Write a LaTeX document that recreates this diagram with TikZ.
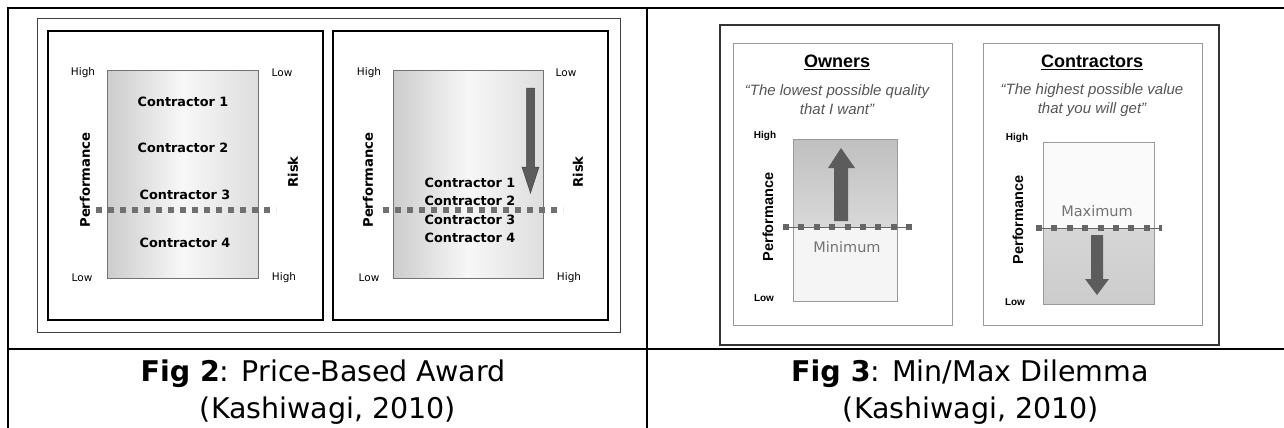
\documentclass[tikz,border=0pt]{standalone}
\usepackage{fontspec}
\setmainfont{DejaVu Sans}
\newfontfamily\arialf{Liberation Sans}
\definecolor{dotgray}{HTML}{707070}
\definecolor{arrowgray}{HTML}{5C5C5C}
\definecolor{edgegray}{HTML}{9A9A9A}
\definecolor{quotegray}{HTML}{555555}
\begin{document}
\begin{tikzpicture}[x=1pt,y=-1pt,
  tbl/.style={line width=2.2pt,black},
  panelbox/.style={line width=2.6pt,black},
  gradbox/.style={left color=black!20,right color=black!13,middle color=black!3,draw=black!55,line width=0.6pt},
  lowhigh/.style={font=\fontsize{10.5}{12}\selectfont,inner sep=0pt},
  contr/.style={font=\bfseries\fontsize{12.8}{14}\selectfont,inner sep=0pt},
  axislab/.style={font=\bfseries\fontsize{13.2}{15}\selectfont,rotate=90,inner sep=0pt},
  sqline/.style={dotgray,line width=5.5pt,dash pattern=on 6pt off 6pt},
  sqline3/.style={black!60,line width=6pt,dash pattern=on 6pt off 9.4pt},
  arrowshape/.style={fill=arrowgray,draw=black!75,line width=0.5pt},
  fthree/.style={font=\arialf\bfseries\fontsize{10}{12}\selectfont,inner sep=0pt},
  fthreeaxis/.style={font=\arialf\bfseries\fontsize{14.5}{16}\selectfont,rotate=90,inner sep=0pt},
  fthreetitle/.style={font=\arialf\bfseries\fontsize{18}{20}\selectfont,inner sep=0pt},
  fthreequote/.style={font=\arialf\itshape\fontsize{15}{19}\selectfont,text=quotegray,align=center,inner sep=0pt},
  minmax/.style={font=\fontsize{14.5}{16}\selectfont,text=black!55,inner sep=0pt},
  caption/.style={font=\fontsize{28.5}{32}\selectfont,anchor=base,inner sep=0pt}
]
\useasboundingbox (0,0) rectangle (1284,428);
% table lines
\draw[tbl] (8,8) -- (1284,8);
\draw[tbl] (8,7) -- (8,428);
\draw[tbl] (647,7) -- (647,428);
\draw[tbl] (8,349) -- (1284,349);

% ---------------- Fig 2 ----------------
\draw[black!75,line width=0.8pt] (37,18) rectangle (620,332);
\draw[panelbox] (48,31) rectangle (323,320);
\draw[panelbox] (333,31) rectangle (608,320);

% panel A
\path[gradbox] (107,70) rectangle (258,278);
\node[lowhigh] (a-hl) at (83,73) {High};
\node[lowhigh] (a-lr) at (282,73) {Low};
\node[lowhigh] (a-ll) at (82,278) {Low};
\node[lowhigh] (a-hr) at (284,278) {High};
\node[axislab] (a-perf) at (85,180) {Performance};
\node[axislab] (a-risk) at (293,172) {Risk};
\node[contr] (a-c1) at (183,102) {Contractor 1};
\node[contr] (a-c2) at (183,148) {Contractor 2};
\node[contr] (a-c3) at (185,195) {Contractor 3};
\node[contr] (a-c4) at (185,243) {Contractor 4};
\draw[sqline] (96,210) -- (276,210);

% panel B
\path[gradbox] (393,70) rectangle (543,278);
\node[lowhigh] (b-hl) at (369,73) {High};
\node[lowhigh] (b-lr) at (566,73) {Low};
\node[lowhigh] (b-ll) at (369,278) {Low};
\node[lowhigh] (b-hr) at (569,278) {High};
\node[axislab] (b-perf) at (368,180) {Performance};
\node[axislab] (b-risk) at (578,172) {Risk};
\path[arrowshape] (526.5,88) -- (534.5,88) -- (534.5,167) -- (539,167) -- (530.5,193) -- (522,167) -- (526.5,167) -- cycle;
\node[contr] (b-c1) at (470,183) {Contractor 1};
\node[contr] (b-c2) at (470,201) {Contractor 2};
\node[contr] (b-c3) at (470,220) {Contractor 3};
\node[contr] (b-c4) at (470,238) {Contractor 4};
\draw[sqline] (383,210) -- (563,210);

% ---------------- Fig 3 ----------------
\draw[line width=2.2pt,black!80] (720,25) rectangle (1219,345);
\draw[edgegray,line width=0.9pt] (733,43) rectangle (952,325);
\draw[edgegray,line width=0.9pt] (983,43) rectangle (1202,325);

% owners
\node[fthreetitle] (o-title) at (837,62) {\underline{Owners}};
\node[fthreequote] (o-quote) at (837,100) {“The lowest possible quality\\that I want”};
\shade[top color=black!25,bottom color=black!15] (793,139) rectangle (897,227);
\fill[black!4] (793,227) rectangle (897,301);
\draw[edgegray,line width=0.9pt] (793,139) rectangle (897,301);
\node[fthree] (o-high) at (765,136) {High};
\node[fthree] (o-low) at (764,298) {Low};
\node[fthreeaxis] (o-perf) at (768,217) {Performance};
\node[minmax] (o-min) at (847,247) {Minimum};
\path[arrowshape,draw=none] (834,221) -- (848,221) -- (848,168) -- (855,168) -- (841,148) -- (828,168) -- (834,168) -- cycle;
\draw[black!60,line width=0.8pt] (783,227) -- (911,227);
\draw[sqline3] (783,227) -- (913,227);

% contractors
\node[fthreetitle] (c-title) at (1092,62) {\underline{Contractors}};
\node[fthreequote] (c-quote) at (1092,100) {“The highest possible value\\that you will get”};
\fill[black!2] (1043,142) rectangle (1154,228);
\shade[top color=black!16,bottom color=black!20] (1043,228) rectangle (1154,304);
\draw[edgegray,line width=0.9pt] (1043,142) rectangle (1154,304);
\node[fthree] (c-high) at (1017,138) {High};
\node[fthree] (c-low) at (1015,302) {Low};
\node[fthreeaxis] (c-perf) at (1018,220) {Performance};
\node[minmax] (c-max) at (1097,211) {Maximum};
\path[arrowshape,draw=none] (1091,235) -- (1103,235) -- (1103,279) -- (1109,279) -- (1097,295) -- (1085,279) -- (1091,279) -- cycle;
\draw[black!60,line width=0.8pt] (1036,228) -- (1159,228);
\draw[sqline3] (1036,228) -- (1162,228);

% captions
\node[caption] (cap2a) at (323,381) {\textbf{Fig 2}: Price-Based Award};
\node[caption] (cap2b) at (328,418) {(Kashiwagi, 2010)};
\node[caption] (cap3a) at (970,381) {\textbf{Fig 3}: Min/Max Dilemma};
\node[caption] (cap3b) at (971,418) {(Kashiwagi, 2010)};
\end{tikzpicture}
\end{document}
